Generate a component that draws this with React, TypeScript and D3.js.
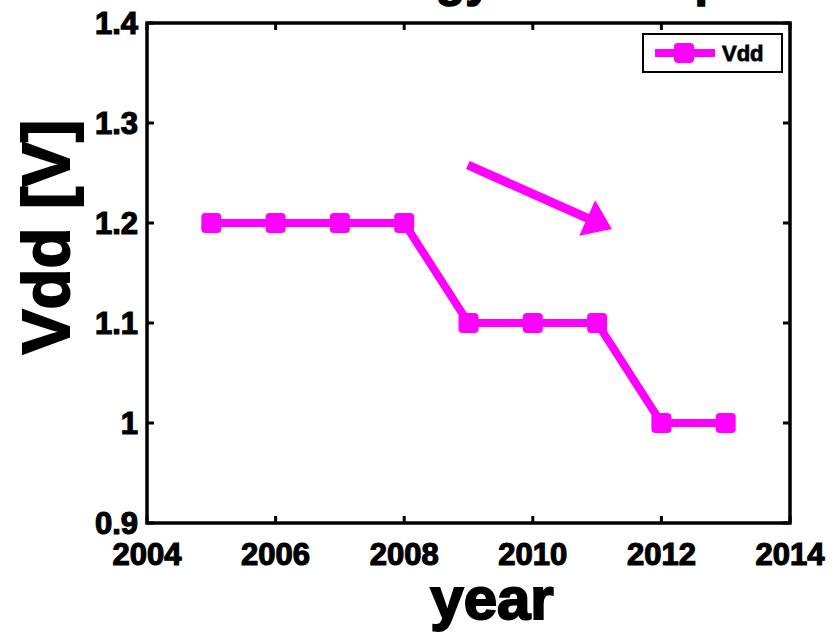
import React from "react";
import * as d3 from "d3";

const years = [2005, 2006, 2007, 2008, 2009, 2010, 2011, 2012, 2013];
const vdd = [1.2, 1.2, 1.2, 1.2, 1.1, 1.1, 1.1, 1.0, 1.0];
const xTicks = [2004, 2006, 2008, 2010, 2012, 2014];
const yTicks = [0.9, 1.0, 1.1, 1.2, 1.3, 1.4];
const yTickLabels = ["0.9", "1", "1.1", "1.2", "1.3", "1.4"];
const seriesName = "Vdd";
const titleText = "Technology Roadmap";
const xLabel = "year";
const yLabel = "Vdd [V]";

const W = 839;
const H = 633;
const L = 147, R = 790, T = 23, B = 523;
const MAGENTA = "#ff00ff";
const FONT = "'Liberation Sans', Arial, sans-serif";

export default function App() {
  const x = d3.scaleLinear().domain([2004, 2014]).range([L, R]);
  const y = d3.scaleLinear().domain([0.9, 1.4]).range([B, T]);
  const line = d3
    .line<number>()
    .x((_, i) => x(years[i]))
    .y((v) => y(v));
  const pts = vdd.map((v, i) => [x(years[i]), y(v)]);
  const ms = 20;

  // arrow annotation (in data coords)
  const a0 = [x(2008.99), y(1.258)];
  const a1 = [x(2011.23), y(1.194)];
  const ang = Math.atan2(a1[1] - a0[1], a1[0] - a0[0]);
  const headLen = 27, headW = 19.5;
  const bx = a1[0] - headLen * Math.cos(ang);
  const by = a1[1] - headLen * Math.sin(ang);
  const nx = -Math.sin(ang), ny = Math.cos(ang);
  const head = `M${a1[0]},${a1[1]} L${bx + nx * headW},${by + ny * headW} L${bx - nx * headW},${by - ny * headW} Z`;

  return (
    <svg
      width={W}
      height={H}
      style={{ position: "absolute", left: 0, top: 0, background: "#fff" }}
      fontFamily={FONT}
      fontWeight="bold"
    >
      <rect x={0} y={0} width={W} height={H} fill="#fff" />
      {/* cut-off title */}
      <text x={475} y={-4} textAnchor="middle" fontSize={48} fill="#000" stroke="#000" strokeWidth={1.5}>
        {titleText}
      </text>

      {/* frame */}
      <rect x={L} y={T} width={R - L} height={B - T} fill="none" stroke="#000" strokeWidth={3.5} />

      {/* x ticks */}
      {xTicks.map((t) => (
        <g key={"x" + t}>
          <line x1={x(t)} x2={x(t)} y1={B} y2={B - 7} stroke="#000" strokeWidth={3} />
          <line x1={x(t)} x2={x(t)} y1={T} y2={T + 7} stroke="#000" strokeWidth={3} />
          <text x={x(t)} y={565} textAnchor="middle" fontSize={31} fill="#000" stroke="#000" strokeWidth={1.2}>
            {t}
          </text>
        </g>
      ))}
      {/* y ticks */}
      {yTicks.map((t, i) => (
        <g key={"y" + t}>
          <line x1={L} x2={L + 7} y1={y(t)} y2={y(t)} stroke="#000" strokeWidth={3} />
          <line x1={R} x2={R - 7} y1={y(t)} y2={y(t)} stroke="#000" strokeWidth={3} />
          <text x={138} y={y(t) + 11} textAnchor="end" fontSize={31} fill="#000" stroke="#000" strokeWidth={1.2}>
            {yTickLabels[i]}
          </text>
        </g>
      ))}

      {/* axis labels */}
      <text x={492} y={619} textAnchor="middle" fontSize={60} fill="#000" stroke="#000" strokeWidth={2}>
        {xLabel}
      </text>
      <text
        transform={`translate(69,237) rotate(-90)`}
        textAnchor="middle"
        fontSize={67}
        fill="#000"
        stroke="#000"
        strokeWidth={2}
      >
        {yLabel}
      </text>

      {/* series */}
      <path d={line(vdd) || ""} fill="none" stroke={MAGENTA} strokeWidth={8} strokeLinejoin="miter" />
      {pts.map((p, i) => (
        <rect key={i} x={p[0] - ms / 2} y={p[1] - ms / 2} width={ms} height={ms} rx={4} fill={MAGENTA} />
      ))}

      {/* arrow */}
      <line x1={a0[0]} y1={a0[1]} x2={bx + 2 * Math.cos(ang)} y2={by + 2 * Math.sin(ang)} stroke={MAGENTA} strokeWidth={9} />
      <path d={head} fill={MAGENTA} />

      {/* legend */}
      <rect x={643} y={34} width={139} height={38} fill="#fff" stroke="#000" strokeWidth={2} />
      <line x1={655} x2={715} y1={53} y2={53} stroke={MAGENTA} strokeWidth={8} />
      <rect x={674} y={43} width={20} height={20} rx={4} fill={MAGENTA} />
      <text x={722} y={61} fontSize={22} fill="#000" stroke="#000" strokeWidth={0.8}>
        {seriesName}
      </text>
    </svg>
  );
}
